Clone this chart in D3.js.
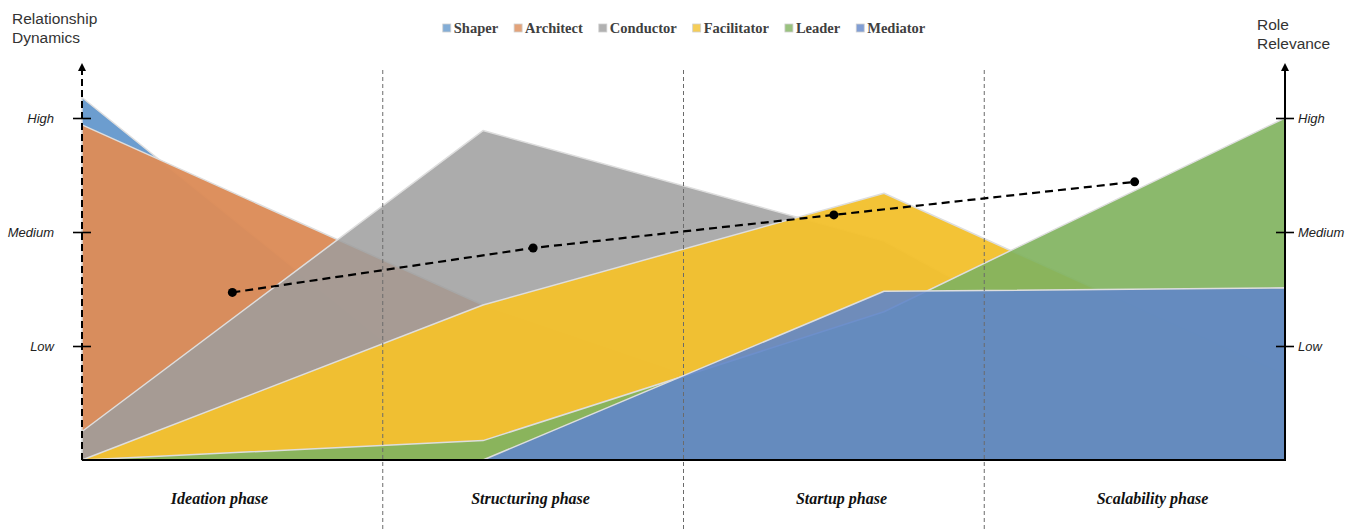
<!DOCTYPE html>
<html>
<head>
<meta charset="utf-8">
<script src="https://cdn.jsdelivr.net/npm/d3@7/dist/d3.min.js"></script>
<style>
  html, body { margin: 0; padding: 0; background: #fff; }
  svg { display: block; }
</style>
</head>
<body>
<svg id="chart" width="1362" height="531"></svg>
<script>
// Phases along the horizontal axis
const phases = ["Ideation phase", "Structuring phase", "Startup phase", "Scalability phase"];
// Vertices of each role area (start of ideation .. end of scalability)
const stages = [0, 1, 2, 3];

// Role relevance per stage (0 = none, 1 = Low, 2 = Medium, 3 = High)
const shaper      = [3.18, 0.35, 0.00, 0.00];
const architect   = [2.94, 1.36, 0.16, 0.00];
const conductor   = [0.25, 2.89, 1.92, 0.00];
const facilitator = [0.00, 1.36, 2.34, 0.75];
const leader      = [0.00, 0.17, 1.30, 3.00];
const mediator    = [0.00, 0.00, 1.48, 1.51];

// Relationship dynamics per phase (dashed trend)
const dynamics = [1.47, 1.86, 2.15, 2.44];

const levelValues = [1, 2, 3];
const levelLabels = ["Low", "Medium", "High"];

const roleNames     = ["Shaper", "Architect", "Conductor", "Facilitator", "Leader", "Mediator"];
const roleValues    = [shaper, architect, conductor, facilitator, leader, mediator];
const roleColors    = ["#6498cc", "#dc8c59", "#9d9d9d", "#f2c12e", "#81b35f", "#6186c9"];
const roleOpacities = [0.95, 0.97, 0.85, 0.96, 0.92, 0.9];

const svg = d3.select("#chart");
const left = 82, right = 1285, bottom = 460;

const x = d3.scaleLinear().domain([0, 3]).range([left, right]);
const xPhase = d3.scaleBand().domain(phases).range([left, right]);
// Phase captions sit on their own, slightly wider spacing
const xCaption = d3.scalePoint().domain(phases).range([219, 1152]);
const y = d3.scaleLinear().domain([0, 3.5]).range([bottom, 61]);

// Role areas, first series at the back
const area = d3.area()
  .x((d, i) => x(stages[i]))
  .y0(y(0))
  .y1(d => y(d));

svg.append("g").selectAll("path")
  .data(roleValues)
  .join("path")
  .attr("d", d => area(d))
  .attr("fill", (d, i) => roleColors[i])
  .attr("fill-opacity", (d, i) => roleOpacities[i])
  .attr("stroke", "#dedede")
  .attr("stroke-width", 1.5)
  .attr("stroke-linejoin", "round");

// Phase dividers
svg.append("g").selectAll("line")
  .data(phases.slice(1))
  .join("line")
  .attr("x1", d => xPhase(d)).attr("x2", d => xPhase(d))
  .attr("y1", 70).attr("y2", 531)
  .attr("stroke", "#6b6b6b")
  .attr("stroke-width", 1)
  .attr("stroke-dasharray", "4,3");

// Baseline
svg.append("line")
  .attr("x1", left).attr("x2", right + 1)
  .attr("y1", bottom).attr("y2", bottom)
  .attr("stroke", "#000").attr("stroke-width", 2);

// Phase captions
const xAxis = svg.append("g")
  .attr("transform", `translate(0,${bottom})`)
  .call(d3.axisBottom(xCaption).tickSize(0).tickPadding(33));
xAxis.select(".domain").remove();
xAxis.selectAll("text")
  .attr("font-family", "'Liberation Serif', 'Times New Roman', serif")
  .attr("font-style", "italic")
  .attr("font-weight", "bold")
  .attr("font-size", 16)
  .attr("fill", "#111");

// Left axis: dashed, with arrow
const arrowTop = 63;
svg.append("line")
  .attr("x1", left).attr("x2", left)
  .attr("y1", bottom).attr("y2", arrowTop + 6)
  .attr("stroke", "#000").attr("stroke-width", 2)
  .attr("stroke-dasharray", "7,4");
svg.append("path")
  .attr("d", d3.line()([[left - 4, arrowTop + 8], [left, arrowTop], [left + 4, arrowTop + 8]]) + "Z")
  .attr("fill", "#000");

// Right axis: solid, with arrow
svg.append("line")
  .attr("x1", right).attr("x2", right)
  .attr("y1", bottom + 1).attr("y2", arrowTop + 6)
  .attr("stroke", "#000").attr("stroke-width", 2);
svg.append("path")
  .attr("d", d3.line()([[right - 4, arrowTop + 8], [right, arrowTop], [right + 4, arrowTop + 8]]) + "Z")
  .attr("fill", "#000");

const fmt = v => levelLabels[levelValues.indexOf(v)];

const yLeft = svg.append("g")
  .attr("transform", `translate(${left + 9},0)`)
  .call(d3.axisLeft(y).tickValues(levelValues).tickFormat(fmt).tickSize(18).tickPadding(19));
const yRight = svg.append("g")
  .attr("transform", `translate(${right - 9},0)`)
  .call(d3.axisRight(y).tickValues(levelValues).tickFormat(fmt).tickSize(18).tickPadding(4));
[yLeft, yRight].forEach(g => {
  g.select(".domain").remove();
  g.selectAll(".tick line").attr("stroke", "#000").attr("stroke-width", 1.6);
  g.selectAll("text")
    .attr("font-family", "'Liberation Sans', Arial, sans-serif")
    .attr("font-style", "italic")
    .attr("font-size", 13)
    .attr("fill", "#222");
});

// Dashed trend of relationship dynamics
const trendLine = d3.line()
  .x((d, i) => xPhase(phases[i]) + xPhase.bandwidth() / 2)
  .y(d => y(d));
svg.append("path")
  .attr("d", trendLine(dynamics))
  .attr("fill", "none")
  .attr("stroke", "#000")
  .attr("stroke-width", 2.2)
  .attr("stroke-dasharray", "8,5");
svg.append("g").selectAll("circle")
  .data(dynamics)
  .join("circle")
  .attr("cx", (d, i) => xPhase(phases[i]) + xPhase.bandwidth() / 2)
  .attr("cy", d => y(d))
  .attr("r", 4.5)
  .attr("fill", "#000");

// Axis titles
const titleFont = "'Liberation Sans', Arial, sans-serif";
const lt = svg.append("text").attr("x", 12).attr("y", 24)
  .attr("font-family", titleFont).attr("font-size", 15.5).attr("fill", "#333");
lt.append("tspan").attr("x", 12).attr("dy", 0).text("Relationship");
lt.append("tspan").attr("x", 12).attr("dy", 19).text("Dynamics");
const rt = svg.append("text").attr("x", 1257).attr("y", 30)
  .attr("font-family", titleFont).attr("font-size", 15.5).attr("fill", "#333");
rt.append("tspan").attr("x", 1257).attr("dy", 0).text("Role");
rt.append("tspan").attr("x", 1257).attr("dy", 19).text("Relevance");

// Legend
const legend = svg.append("g");
let lx = 0;
roleNames.forEach((name, i) => {
  const item = legend.append("g").attr("transform", `translate(${lx},0)`);
  item.append("rect")
    .attr("x", 0).attr("y", -9).attr("width", 8).attr("height", 8)
    .attr("fill", roleColors[i]).attr("fill-opacity", 0.8)
    .attr("stroke", "#cfcfcf").attr("stroke-width", 0.8);
  const t = item.append("text")
    .attr("x", 11).attr("y", 0)
    .attr("font-family", "'Liberation Serif', 'Times New Roman', serif")
    .attr("font-weight", "bold")
    .attr("font-size", 14.5)
    .attr("fill", "#404040")
    .text(name);
  lx += 11 + t.node().getComputedTextLength() + 16;
});
const legendWidth = lx - 16;
legend.attr("transform", `translate(${684 - legendWidth / 2},33)`);
</script>
</body>
</html>
